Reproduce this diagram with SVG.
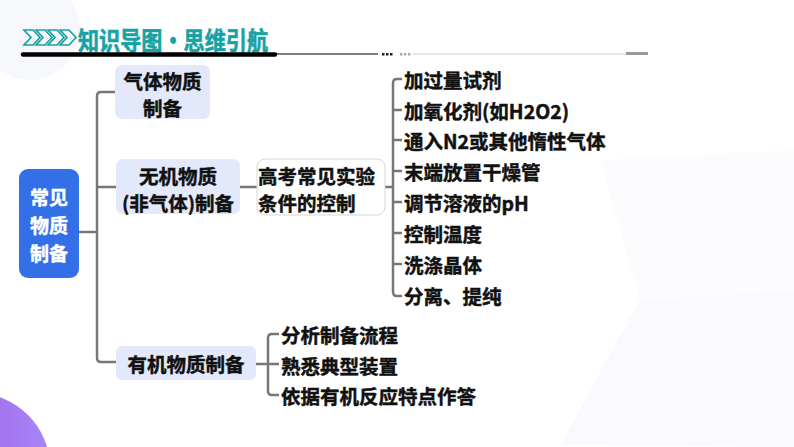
<svg xmlns="http://www.w3.org/2000/svg" width="794" height="447" viewBox="0 0 794 447">
<defs>
<linearGradient id="pg" x1="0" y1="0" x2="1" y2="0">
<stop offset="0" stop-color="#9a52dc"/>
<stop offset="1" stop-color="#a886f8"/>
</linearGradient>
<style>
.t{font-family:"Noto Sans CJK SC","Noto Sans",sans-serif;font-weight:700;font-size:19.5px;fill:#111;stroke:#111;stroke-width:0.45;dominant-baseline:central}
.w{fill:#fff;stroke:#fff;font-size:19px}
.c{text-anchor:middle}
.n{fill:#e3e9fb}
.ln{fill:none;stroke:#777;stroke-width:2.5;stroke-linejoin:round}
.ch{fill:none;stroke:#17a2a4;stroke-width:1.7}
</style>
</defs>
<rect width="794" height="447" fill="#fff"/>
<g id="background">
<circle cx="30" cy="30" r="50" fill="#f7f8fc"/>
<polygon points="560,445 640,300 794,290 794,447" fill="#f9f9fe"/>
<polygon points="600,160 794,150 794,290 640,300" fill="#fcfcff"/>
<circle cx="-25" cy="468" r="75" fill="url(#pg)"/>
</g>
<g id="header">
<path class="ch" d="M24,30 L33,30 L40,37.5 L33,45 L24,45 L31,37.5 Z"/>
<path class="ch" d="M36,30 L45,30 L52,37.5 L45,45 L36,45 L43,37.5 Z"/>
<path class="ch" d="M48,30 L57,30 L64,37.5 L57,45 L48,45 L55,37.5 Z"/>
<path class="ch" d="M60,30 L69,30 L76,37.5 L69,45 L60,45 L67,37.5 Z"/>
<text x="78" y="39" textLength="190" lengthAdjust="spacingAndGlyphs" style="font-family:'Noto Sans CJK SC',sans-serif;font-weight:700;font-size:25px;fill:#17a2a4;stroke:#17a2a4;stroke-width:0.6;dominant-baseline:central">知识导图·思维引航</text>
<line x1="23" y1="54.5" x2="275" y2="54.5" stroke="#000" stroke-width="4.5" stroke-linecap="round"/>
<line x1="275" y1="54" x2="378" y2="54" stroke="#000" stroke-width="1.2"/>
<g fill="#222"><rect x="382" y="53" width="2.5" height="2.5"/><rect x="386" y="53" width="2.5" height="2.5"/><rect x="390" y="53" width="2.5" height="2.5"/></g>
<g fill="#aaa"><rect x="400" y="53" width="2.5" height="2.5"/><rect x="404" y="53" width="2.5" height="2.5"/><rect x="408" y="53" width="2.5" height="2.5"/></g>
<line x1="413" y1="54" x2="630" y2="54" stroke="#ccc" stroke-width="1"/>
<line x1="626" y1="53.5" x2="648" y2="53.5" stroke="#999" stroke-width="3"/>
</g>
<g id="connectors">
<path class="ln" d="M79,232 H97"/>
<path class="ln" d="M115,92 H101 Q97,92 97,96 V358 Q97,362 101,362 H116"/>
<path class="ln" d="M97,187 H116"/>
<path class="ln" d="M240,187 H257"/>
<path class="ln" d="M385,187 H393"/>
<path class="ln" d="M402,79 H397 Q393,79 393,83 V292 Q393,296 397,296 H402"/>
<path class="ln" d="M393,110 H402 M393,140 H402 M393,171 H402 M393,202 H402 M393,233 H402 M393,264 H402"/>
<path class="ln" d="M256,364 H279"/>
<path class="ln" d="M279,334 H272 Q268,334 268,338 V391 Q268,395 272,395 H279"/>
</g>
<g id="root">
<rect x="19" y="169" width="60" height="109" rx="9" fill="#3370e8"/>
<text class="t w c" x="49" y="196">常见</text>
<text class="t w c" x="49" y="224">物质</text>
<text class="t w c" x="49" y="252">制备</text>
</g>
<g id="gas">
<rect class="n" x="115" y="65" width="95" height="54" rx="7"/>
<text class="t c" x="162.5" y="80">气体物质</text>
<text class="t c" x="162.5" y="107">制备</text>
</g>
<g id="inorganic">
<rect class="n" x="116" y="159" width="124" height="55" rx="7"/>
<text class="t c" x="178" y="175">无机物质</text>
<text class="t c" x="178" y="202">(非气体)制备</text>
</g>
<g id="conditions">
<rect x="257" y="159" width="128" height="56" rx="8" fill="#fff" stroke="#d6d6d6" stroke-width="1"/>
<text class="t" x="258" y="175">高考常见实验</text>
<text class="t" x="258" y="202">条件的控制</text>
</g>
<g id="organic">
<rect class="n" x="116" y="346" width="140" height="34" rx="6"/>
<text class="t c" x="186" y="363">有机物质制备</text>
</g>
<g id="cond-items">
<text class="t" x="404" y="79">加过量试剂</text>
<text class="t" x="404" y="110">加氧化剂(如H2O2)</text>
<text class="t" x="404" y="140">通入N2或其他惰性气体</text>
<text class="t" x="404" y="171">末端放置干燥管</text>
<text class="t" x="404" y="202">调节溶液的pH</text>
<text class="t" x="404" y="233">控制温度</text>
<text class="t" x="404" y="264">洗涤晶体</text>
<text class="t" x="404" y="295">分离、提纯</text>
</g>
<g id="organic-items">
<text class="t" x="281" y="334">分析制备流程</text>
<text class="t" x="281" y="365">熟悉典型装置</text>
<text class="t" x="281" y="395">依据有机反应特点作答</text>
</g>
</svg>
